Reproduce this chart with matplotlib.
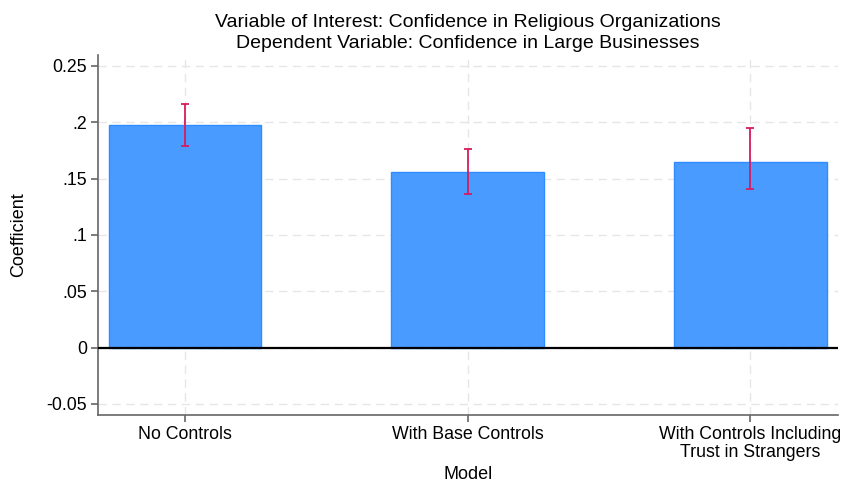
import matplotlib
matplotlib.use("Agg")
import matplotlib.pyplot as plt

plt.rcParams['font.family'] = ['Liberation Sans', 'DejaVu Sans']

# coefficient estimates and 95% CI bounds
models = ["No Controls", "With Base Controls", "With Controls Including\nTrust in Strangers"]
coefs = [0.1974, 0.1558, 0.1644]
ci_low = [0.1785, 0.1363, 0.1407]
ci_high = [0.2158, 0.1765, 0.1948]

yticks = [-0.05, 0, 0.05, 0.1, 0.15, 0.2, 0.25]
ytick_labels = ["-0.05", "0", ".05", ".1", ".15", ".2", "0.25"]

pos = [1, 2, 3]
err = [[c - lo for c, lo in zip(coefs, ci_low)],
       [hi - c for c, hi in zip(coefs, ci_high)]]

fig = plt.figure(figsize=(8.44, 4.83), dpi=100)
ax = fig.add_axes([0.116, 0.141, 0.877, 0.745])

ax.bar(pos, coefs, width=0.54, color="#4A9BFF", edgecolor="#2F8CFF", linewidth=1, zorder=2)
ax.errorbar(pos, coefs, yerr=err, fmt="none", ecolor="#D81B60", elinewidth=1.3,
            capsize=3, capthick=1.3, zorder=3)
ax.axhline(0, color="black", linewidth=1.6, zorder=4)

ax.set_xlim(0.692, 3.31)
ax.set_ylim(-0.0597, 0.2595)
ax.set_xticks(pos)
ax.set_xticklabels(models, fontsize=12.8, linespacing=1.05)
ax.set_yticks(yticks)
ax.set_yticklabels(ytick_labels, fontsize=12.8)

ax.grid(True, color="#E6E6E6", linestyle=(0, (6, 4)), linewidth=1, zorder=0)
ax.set_axisbelow(True)

for s in ["top", "right"]:
    ax.spines[s].set_visible(False)
for s in ["left", "bottom"]:
    ax.spines[s].set_color("#666666")
    ax.spines[s].set_linewidth(1.2)
ax.tick_params(color="#666666", length=5, width=1.2, pad=3)

ax.set_xlabel("Model", fontsize=13, labelpad=4)
ax.set_ylabel("Coefficient", fontsize=13, labelpad=14)
ax.set_title("Variable of Interest: Confidence in Religious Organizations\n"
             "Dependent Variable: Confidence in Large Businesses",
             fontsize=14, linespacing=1.3, pad=5)

fig.savefig("out.png", dpi=100)
